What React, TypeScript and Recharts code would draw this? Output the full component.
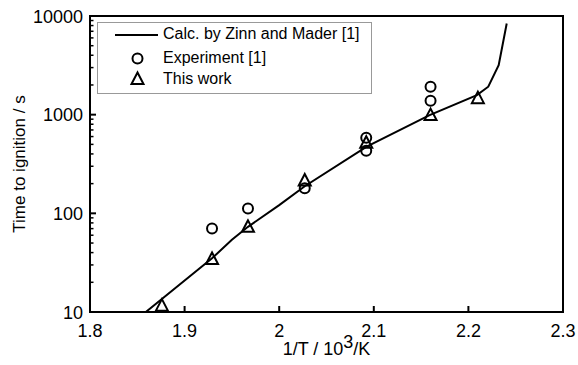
import React from 'react';
import { ComposedChart, Line, Scatter, XAxis, YAxis, ReferenceArea } from 'recharts';

const FONT = '"Liberation Sans", Arial, sans-serif';

// Calculated curve (Zinn and Mader)
const calcX = [1.859, 1.929, 1.95, 1.967, 2.0, 2.027, 2.0925, 2.159, 2.209, 2.221, 2.232, 2.2405];
const calcY = [10, 35, 54, 73, 121, 188, 475, 990, 1580, 1920, 3180, 8400];

// Experiment [1]
const expX = [1.929, 1.967, 2.027, 2.092, 2.092, 2.16, 2.16];
const expY = [70, 112, 180, 585, 430, 1920, 1380];

// This work
const workX = [1.876, 1.929, 1.967, 2.027, 2.092, 2.16, 2.21];
const workY = [11.6, 34.5, 73, 215, 520, 990, 1470];

const xTicks = [1.8, 1.9, 2.0, 2.1, 2.2, 2.3];
const xTickLabels = ['1.8', '1.9', '2', '2.1', '2.2', '2.3'];
const yMajor = [10, 100, 1000, 10000];
const yMinor = [20, 30, 40, 50, 60, 70, 80, 90, 200, 300, 400, 500, 600, 700, 800, 900, 2000, 3000, 4000, 5000, 6000, 7000, 8000, 9000];
const yTicks = [...yMajor, ...yMinor].sort((a, b) => a - b);

const xTitle = '1/T / 10';
const xTitleSup = '3';
const xTitleEnd = '/K';
const yTitle = 'Time to ignition / s';

const calcData = calcX.map((x, i) => ({ x, y: calcY[i] }));
const expData = expX.map((x, i) => ({ x, y: expY[i] }));
const workData = workX.map((x, i) => ({ x, y: workY[i] }));

const XTick = (props: any) => {
  const { x, y, payload } = props;
  const idx = xTicks.findIndex((t) => Math.abs(t - payload.value) < 1e-9);
  return (
    <g>
      <line x1={x} y1={y} x2={x} y2={y - 6} stroke="#000" strokeWidth={2} />
      <text x={x} y={y + 25} textAnchor="middle" fontSize={18} fontFamily={FONT} fill="#000">
        {idx >= 0 ? xTickLabels[idx] : payload.value}
      </text>
    </g>
  );
};

const YTick = (props: any) => {
  const { x, y, payload } = props;
  const major = yMajor.includes(payload.value);
  return (
    <g>
      <line x1={x} y1={y} x2={x + (major ? 6 : 3.5)} y2={y} stroke="#000" strokeWidth={major ? 2 : 1.5} />
      {major && (
        <text x={x - 7} y={y + 6.5} textAnchor="end" fontSize={18} fontFamily={FONT} fill="#000">
          {String(payload.value)}
        </text>
      )}
    </g>
  );
};

const Circle = (props: any) => {
  const { cx, cy } = props;
  if (cx == null || cy == null) return null;
  return <circle cx={cx} cy={cy} r={5} fill="none" stroke="#000" strokeWidth={2} />;
};

const Triangle = (props: any) => {
  const { cx, cy } = props;
  if (cx == null || cy == null) return null;
  return (
    <polygon
      points={`${cx},${cy - 6.5} ${cx - 6},${cy + 5} ${cx + 6},${cy + 5}`}
      fill="none"
      stroke="#000"
      strokeWidth={2}
      strokeLinejoin="miter"
    />
  );
};

const legendText: React.CSSProperties = {
  position: 'absolute',
  left: 65,
  fontSize: 16,
  fontFamily: FONT,
  lineHeight: '18px',
  color: '#000',
  whiteSpace: 'nowrap',
};

export default function App() {
  return (
    <div style={{ position: 'absolute', left: 0, top: 0, width: 578, height: 365, background: '#fff' }}>
      <ComposedChart width={578} height={365} margin={{ top: 16, right: 15, bottom: 23, left: 10 }}>
        <XAxis
          type="number"
          dataKey="x"
          domain={[1.8, 2.3]}
          ticks={xTicks}
          interval={0}
          allowDataOverflow
          axisLine={false}
          tickLine={false}
          tickSize={0}
          tickMargin={0}
          height={30}
          tick={<XTick />}
        />
        <YAxis
          type="number"
          dataKey="y"
          scale="log"
          domain={[10, 10000]}
          ticks={yTicks}
          interval={0}
          allowDataOverflow
          axisLine={false}
          tickLine={false}
          tickSize={0}
          tickMargin={0}
          width={80}
          tick={<YTick />}
        />
        <ReferenceArea x1={1.8} x2={2.3} y1={10} y2={10000} fill="none" stroke="#000" strokeWidth={2} fillOpacity={0} />
        <Line
          data={calcData}
          dataKey="y"
          type="linear"
          stroke="#000"
          strokeWidth={2}
          dot={false}
          activeDot={false}
          isAnimationActive={false}
        />
        <Scatter data={expData} dataKey="y" shape={<Circle />} isAnimationActive={false} />
        <Scatter data={workData} dataKey="y" shape={<Triangle />} isAnimationActive={false} />
      </ComposedChart>
      <svg
        width={578}
        height={365}
        style={{ position: 'absolute', left: 0, top: 0, pointerEvents: 'none' }}
      >
        <text x={326.5} y={355} textAnchor="middle" fontSize={18} fontFamily={FONT} fill="#000">
          {xTitle}
          <tspan dy={-7} fontSize={18}>{xTitleSup}</tspan>
          <tspan dy={7}>{xTitleEnd}</tspan>
        </text>
      </svg>
      <div
        style={{
          position: 'absolute',
          left: 20 - 100,
          top: 164 - 10,
          width: 200,
          height: 20,
          lineHeight: '20px',
          textAlign: 'center',
          fontSize: 17,
          fontFamily: FONT,
          color: '#000',
          transform: 'rotate(-90deg)',
          transformOrigin: '100px 10px',
          whiteSpace: 'nowrap',
        }}
      >
        {yTitle}
      </div>
      <div
        style={{
          position: 'absolute',
          left: 97,
          top: 22,
          width: 275,
          height: 72,
          border: '1px solid #999',
          background: '#fff',
          boxSizing: 'border-box',
        }}
      >
        <svg style={{ position: 'absolute', left: 0, top: 0 }} width={60} height={70}>
          <line x1={17} y1={12} x2={61} y2={12} stroke="#000" strokeWidth={2} />
          <circle cx={39.5} cy={35.5} r={5} fill="none" stroke="#000" strokeWidth={2} />
          <polygon points="39.5,49.5 33.5,61 45.5,61" fill="none" stroke="#000" strokeWidth={2} />
        </svg>
        <div style={{ ...legendText, top: 2 }}>Calc. by Zinn and Mader [1]</div>
        <div style={{ ...legendText, top: 26 }}>Experiment [1]</div>
        <div style={{ ...legendText, top: 47 }}>This work</div>
      </div>
    </div>
  );
}
